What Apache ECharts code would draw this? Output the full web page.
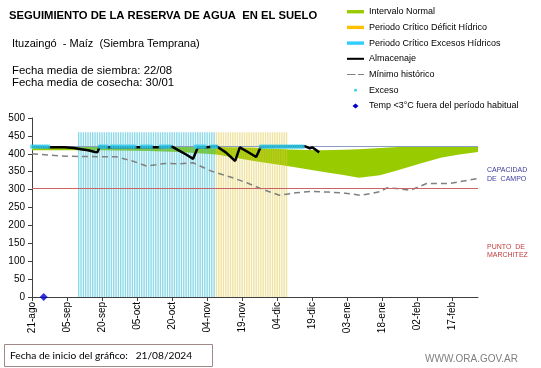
<!DOCTYPE html>
<html><head><meta charset="utf-8">
<script src="https://cdn.jsdelivr.net/npm/echarts@6/dist/echarts.min.js"></script>
<style>html,body{margin:0;padding:0;background:#fff}#c{width:541px;height:368px}</style>
</head><body><div id="c"></div>
<script>
// ---- data (x = days since 21/08/2024) ----
const xTickLabels = ['21-ago','05-sep','20-sep','05-oct','20-oct','04-nov','19-nov','04-dic','19-dic','03-ene','18-ene','02-feb','17-feb'];

const bandDays  = [0, 30, 50, 63, 79, 95, 110, 123, 134, 140, 149, 157, 166, 175, 183, 191];
const bandLower = [410,410,408,405,398,380,365,351,340,333,340,355,372,389,398,405];
const bandUpper = [420,420,420,420,419,417,412,410,411,413,416,419,420,420,420,421];

const minHistDays = [0,8,15,29,36,43,49,57,63,69,77,85,92,99,106,113,120,127,134,141,149,152,156,162,169,179,191];
const minHistMm   = [400,396,393,392,392,380,366,373,372,375,351,335,319,300,284,291,295,293,290,284,294,305,303,298,317,317,331];

const almDays = [0,8,14,18,21,24,27,28,29,33,45,55,60,63,66,69,71,75,79,83,87,89,93,96,98,117,119,120,123];
const almMm   = [420,418,418,416,413,410,405,404,420,418,418,418,420,409,398,386,418,418,421,404,380,418,403,391,420,421,415,418,404];

const excesoRanges = [[0,7],[29,32],[34,44],[47,51],[55,59],[70,74],[77,79],[98,116]];
const excesoMm = 420;
const tempDays = [5];
const tempMm = [0];

const periodoExcesos = [20,78];   // Periodo Crítico Excesos Hídricos
const periodoDeficit = [79,109];  // Periodo Crítico Déficit Hídrico
const periodoAltura = 460;

const capacidadCampo = 420;
const puntoMarchitez = 304;

// ---- build ----
const pair = (xs, ys) => xs.map((x,i)=>[x, ys[i]]);
const rangeBars = (r, v) => { const out=[]; for(let d=r[0]; d<=r[1]; d++) out.push([d, v]); return out; };
const excesoData = []; excesoRanges.forEach(r=>{ for(let d=r[0]; d<=r[1]; d++) excesoData.push([d, excesoMm]); });

const chart = echarts.init(document.getElementById('c'), null, {renderer:'canvas'});
const FONT = 'Arial, "Liberation Sans", sans-serif';
const SW = 'path://M0,0H20V4H0Z';
chart.setOption({
  animation:false,
  backgroundColor:'#fff',
  grid:{left:32, right:63, top:118, bottom:71, containLabel:false, outerBoundsMode:'none'},
  legend:{
    orient:'vertical', left:347, top:6.2, padding:0, itemWidth:17, itemHeight:5, itemGap:4.7,
    selectedMode:false,
    textStyle:{fontSize:9, fontFamily:FONT, color:'#000', lineHeight:11},
    data:[
      {name:'Intervalo Normal', icon:SW, itemStyle:{color:'#99cc00', opacity:1}},
      {name:'Periodo Crítico Déficit Hídrico', icon:SW, itemStyle:{color:'#ffc000', opacity:1}},
      {name:'Periodo Crítico Excesos Hídricos', icon:SW, itemStyle:{color:'#33ccff', opacity:1}},
      {name:'Almacenaje', icon:'path://M0,0H20V2.4H0Z', itemStyle:{color:'#000', opacity:1}},
      {name:'Mínimo histórico', icon:'path://M0,1.8H10V3.2H0ZM13,1.8H20V3.2H13ZM0,0M20,5', itemStyle:{color:'#808080', opacity:1}},
      {name:'Exceso', icon:'path://M0,0M20,5M8.5,1H11.5V4H8.5Z', itemStyle:{color:'#33ccee', opacity:1}},
      {name:'Temp <3°C fuera del período habitual', icon:'path://M0,-0.5M20,5.5M10,-0.5L13.6,2.5L10,5.5L6.4,2.5Z', itemStyle:{color:'#0000cc', opacity:1}}
    ]
  },
  xAxis:{
    type:'value', min:0, max:191, interval:15,
    axisLine:{show:true, lineStyle:{color:'#404040', width:1}},
    axisTick:{show:true, length:4, lineStyle:{color:'#404040'}, customValues: xTickLabels.map((_,i)=>i*15)},
    axisLabel:{rotate:90, fontSize:10, fontFamily:FONT, color:'#000', margin:5,
      customValues: xTickLabels.map((_,i)=>i*15),
      formatter:v=>{ const i=Math.round(v/15); return xTickLabels[i]||''; }},
    splitLine:{show:false}
  },
  yAxis:{
    type:'value', min:0, max:500, interval:50,
    name:'Milímetros', nameLocation:'middle', nameGap:22, nameRotate:90,
    nameTextStyle:{fontSize:7, fontFamily:FONT, color:'#000'},
    axisLine:{show:true, lineStyle:{color:'#404040', width:1}},
    axisTick:{show:true, length:4, lineStyle:{color:'#404040'}},
    axisLabel:{fontSize:10, fontFamily:FONT, color:'#000', margin:7},
    splitLine:{show:false}
  },
  series:[
    {name:'Intervalo Normal', type:'custom', data:pair(bandDays, bandUpper), encode:{x:0, y:1},
     itemStyle:{color:'#99cc00'}, z:1, clip:true,
     renderItem:(params, api)=>{
       if (params.dataIndex !== 0) return null;
       const pts = [];
       for (let i=0;i<bandDays.length;i++) pts.push(api.coord([bandDays[i], bandUpper[i]]));
       for (let i=bandDays.length-1;i>=0;i--) pts.push(api.coord([bandDays[i], bandLower[i]]));
       return {type:'polygon', shape:{points:pts}, style:{fill:'#99cc00'}};
     }},
    {name:'Periodo Crítico Excesos Hídricos', type:'bar', data:rangeBars(periodoExcesos, periodoAltura),
     barWidth:1.4, barGap:'-100%', itemStyle:{color:'rgba(64,192,216,0.6)'}, z:2},
    {name:'Periodo Crítico Déficit Hídrico', type:'bar', data:rangeBars(periodoDeficit, periodoAltura),
     barWidth:1.4, barGap:'-100%', itemStyle:{color:'rgba(224,200,64,0.5)'}, z:2},
    {name:'limites', type:'line', data:[], symbol:'none', z:3,
     markLine:{silent:true, symbol:'none', label:{show:false},
       data:[{yAxis:capacidadCampo, lineStyle:{color:'#8a9cc4', width:1, type:'solid'}},
             {yAxis:puntoMarchitez, lineStyle:{color:'#c86464', width:1, type:'solid'}}]}},
    {name:'Mínimo histórico', type:'line', data:pair(minHistDays, minHistMm), symbol:'none',
     lineStyle:{color:'#808080', width:1.5, type:[6,4]}, itemStyle:{color:'#808080'}, z:4},
    {name:'Almacenaje', type:'line', data:pair(almDays, almMm), symbol:'none',
     lineStyle:{color:'#000', width:2.5}, itemStyle:{color:'#000'}, z:5},
    {name:'Exceso', type:'scatter', data:excesoData, symbol:'rect', symbolSize:[3.5,4],
     itemStyle:{color:'#33ccee'}, z:6, clip:false},
    {name:'Temp <3°C fuera del período habitual', type:'scatter', data:pair(tempDays, tempMm), symbol:'diamond',
     symbolSize:8, itemStyle:{color:'#0000cc'}, z:7, clip:false}
  ],
  graphic:[
    {type:'text', x:9, y:16, style:{text:'SEGUIMIENTO DE LA RESERVA DE AGUA  EN EL SUELO', font:'bold 11.25px '+FONT, fill:'#000', verticalAlign:'middle'}},
    {type:'text', x:12, y:44, style:{text:'Ituzaingó  - Maíz  (Siembra Temprana)', font:'11px '+FONT, fill:'#000', verticalAlign:'middle'}},
    {type:'text', x:12, y:70.5, style:{text:'Fecha media de siembra: 22/08', font:'11.4px '+FONT, fill:'#000', verticalAlign:'middle'}},
    {type:'text', x:12, y:83, style:{text:'Fecha media de cosecha: 30/01', font:'11.4px '+FONT, fill:'#000', verticalAlign:'middle'}},
    {type:'text', x:487, y:170, style:{text:'CAPACIDAD', font:'7px '+FONT, fill:'#3c3ca0', verticalAlign:'middle'}},
    {type:'text', x:487, y:179, style:{text:'DE  CAMPO', font:'7px '+FONT, fill:'#3c3ca0', verticalAlign:'middle'}},
    {type:'text', x:487, y:247, style:{text:'PUNTO  DE', font:'7px '+FONT, fill:'#c03c3c', verticalAlign:'middle'}},
    {type:'text', x:487, y:255, style:{text:'MARCHITEZ', font:'7px '+FONT, fill:'#c03c3c', verticalAlign:'middle'}},
    {type:'rect', shape:{x:4.5, y:344.5, width:208, height:22}, style:{fill:'#fff', stroke:'#a08888', lineWidth:1}},
    {type:'text', x:10, y:355.5, style:{text:'Fecha de inicio del gráfico:   21/08/2024', font:'10.2px Lato, "Open Sans", sans-serif', fill:'#000', verticalAlign:'middle'}},
    {type:'text', x:425, y:359, style:{text:'WWW.ORA.GOV.AR', font:'10px '+FONT, fill:'#808080', verticalAlign:'middle'}}
  ]
});
</script></body></html>
